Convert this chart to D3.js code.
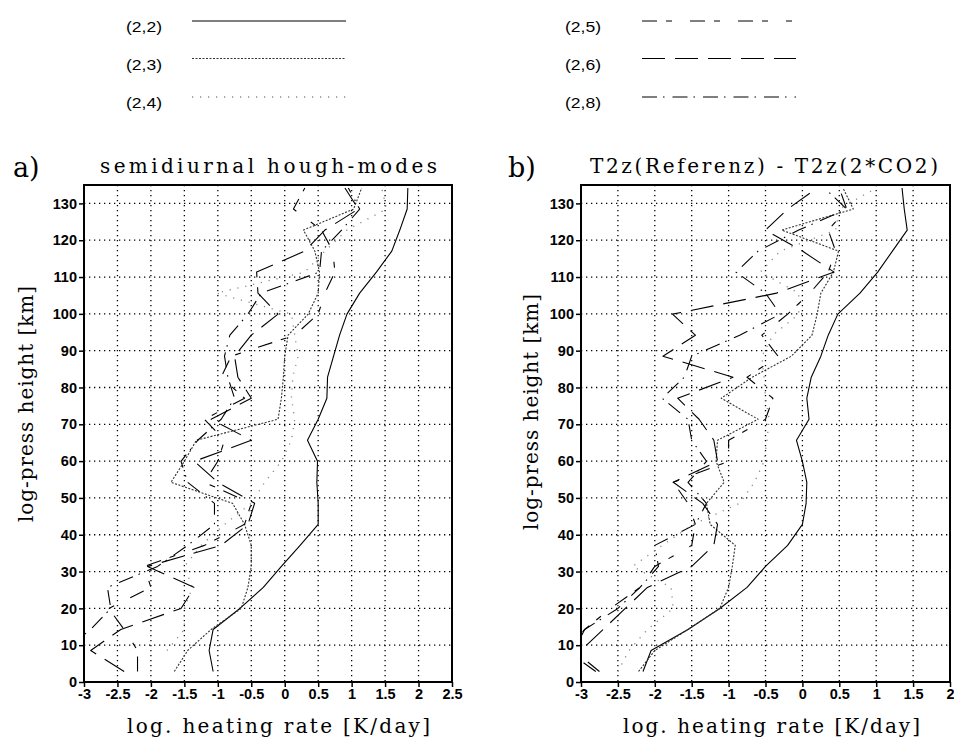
<!DOCTYPE html>
<html>
<head>
<meta charset="utf-8">
<script src="https://cdn.jsdelivr.net/npm/d3@7"></script>
<style>
  body { margin: 0; background: #fff; }
  svg { display: block; }
</style>
</head>
<body>
<svg id="chart" width="954" height="740"></svg>
<script>
// ---------- DATA ----------
const heights = [2.85, 8.56, 14.27, 19.98, 25.69, 31.4, 37.11, 42.82, 48.53, 54.24, 59.95, 65.66,
                 71.37, 77.08, 82.79, 88.5, 94.21, 99.92, 105.63, 111.34, 117.05, 122.76, 128.47, 134.18];

const seriesNames = ["(2,2)", "(2,3)", "(2,4)", "(2,5)", "(2,6)", "(2,8)"];

// panel a) semidiurnal hough-modes
const a22 = [-1.07, -1.13, -1.07, -0.67, -0.32, -0.05, 0.23, 0.50, 0.50, 0.48, 0.49, 0.34, 0.50, 0.63, 0.64, 0.73, 0.82, 0.93, 1.12, 1.37, 1.60, 1.72, 1.83, 1.84];
const a23 = [-1.65, -1.45, -1.1, -0.65, -0.55, -0.5, -0.5, -0.6, -0.78, -1.7, -1.5, -1.32, -0.1, -0.05, -0.02, 0.0, 0.05, 0.35, 0.5, 0.52, 0.45, 0.28, 1.03, 1.15];
const a24 = [null, -1.76, -1.5, -1.5, -1.38, -1.5, -1.25, -0.9, -0.5, -0.3, -0.05, 0.1, 0.15, 0.1, 0.12, 0.2, 0.15, 0.1, -1.02, 0.3, 0.6, 0.93, 1.52, 1.45];
const a25 = [-2.2, -2.2, -2.4, -2.63, -2.0, -2.1, -1.2, -0.6, -0.5, -1.2, -1.0, -0.9, -1.2, -0.6, -0.95, -0.8, 0.15, 0.5, 0.6, 0.75, 0.72, 0.55, 0.13, 0.3];
const a26 = [-2.4, -2.9, -2.45, -1.55, -1.35, -2.05, -0.95, -0.55, -0.45, -1.0, -1.35, -0.5, -1.1, -0.5, -0.7, -0.75, -0.5, -0.1, -0.4, -0.42, 0.3, 0.6, 1.1, 0.9];
const a28 = [-3.5, -3.3, -2.9, -2.6, -2.65, -1.9, -1.45, -1.05, -1.05, -1.45, -1.55, -1.3, -0.95, -0.75, -0.85, -0.9, -0.82, -0.55, -0.35, 0.52, 0.55, 0.85, 1.12, 0.95];

// panel b) T2z(Referenz) - T2z(2*CO2)
const b22 = [-2.16, -2.05, -1.55, -1.12, -0.75, -0.5, -0.2, 0.0, 0.05, 0.06, 0.0, -0.08, 0.09, 0.06, 0.12, 0.25, 0.35, 0.48, 0.78, 1.02, 1.22, 1.42, 1.38, 1.35];
const b23 = [-2.22, -2.0, -1.55, -1.12, -1.0, -0.95, -0.91, -1.25, -1.3, -1.06, -1.17, -1.15, -0.6, -1.1, -0.68, -0.15, 0.13, 0.2, 0.25, 0.42, 0.49, -0.28, 0.69, 0.55];
const b24 = [-2.5, -2.35, -2.1, -1.75, -1.78, -2.3, -1.9, -1.48, -0.85, -0.65, -0.52, -0.48, -0.45, -0.5, -0.52, -0.55, -0.4, -0.05, -0.05, -0.57, -0.3, 0.45, 0.5, 1.0];
const b25 = [-2.75, -3.1, -2.95, -2.6, -2.2, -2.0, -1.5, -1.45, -1.55, -1.75, -1.0, -1.0, -0.5, -0.4, -0.75, -0.33, -0.55, -0.2, 0.1, 0.35, 0.45, 0.35, 0.6, 0.5];
const b26 = [-3.2, -3.0, -2.7, -2.4, -2.1, -1.5, -1.2, -1.15, -1.35, -1.75, -1.15, -1.2, -1.4, -1.69, -0.94, -1.89, -1.45, -1.76, -0.35, 0.43, 0.0, -0.5, -0.2, 0.2];
const b28 = [-2.8, -3.2, -2.95, -2.5, -2.2, -1.95, -2.0, -1.45, -1.3, -1.55, -1.3, -1.5, -1.55, -1.9, -1.6, -1.5, -0.85, -0.3, -0.5, -0.9, -0.6, -0.05, 0.6, 0.3];

const xTicksA = [-3, -2.5, -2, -1.5, -1, -0.5, 0, 0.5, 1, 1.5, 2, 2.5];
const xTicksB = [-3, -2.5, -2, -1.5, -1, -0.5, 0, 0.5, 1, 1.5, 2];
const yTicks = [0, 10, 20, 30, 40, 50, 60, 70, 80, 90, 100, 110, 120, 130];

const panelTitles = ["semidiurnal hough-modes", "T2z(Referenz) - T2z(2*CO2)"];
const panelLetters = ["a)", "b)"];
const xLabel = "log. heating rate [K/day]";
const yLabel = "log-press height [km]";

// ---------- STYLES ----------
const styles = {
  "(2,2)": { dash: null, color: "#000", w: 1.1 },
  "(2,3)": { dash: "2,1.5", color: "#333", w: 1.1 },
  "(2,4)": { dash: "1.2,6.8", color: "#888", w: 1.3 },
  "(2,5)": { dash: "15,9,6,18", color: "#000", w: 1.1 },
  "(2,6)": { dash: "23,10", color: "#000", w: 1.1 },
  "(2,8)": { dash: "15,6,1.5,8", color: "#000", w: 1.1 }
};

const svg = d3.select("#chart");
const serif = "'DejaVu Serif', 'Liberation Serif', serif";
const sans = "'Liberation Sans', Arial, sans-serif";

// ---------- LEGEND ----------
const legendItems = [
  { name: "(2,2)", tx: 126, lx0: 192, lx1: 346, y: 21 },
  { name: "(2,3)", tx: 126, lx0: 192, lx1: 346, y: 58.5 },
  { name: "(2,4)", tx: 126, lx0: 192, lx1: 346, y: 97 },
  { name: "(2,5)", tx: 565, lx0: 642, lx1: 792, y: 21 },
  { name: "(2,6)", tx: 565, lx0: 642, lx1: 796, y: 58.5 },
  { name: "(2,8)", tx: 565, lx0: 642, lx1: 796, y: 97 }
];
const lg = svg.append("g");
legendItems.forEach(it => {
  const st = styles[it.name];
  lg.append("text").attr("x", it.tx).attr("y", it.y + 11)
    .attr("font-family", sans).attr("font-size", 14)
    .attr("textLength", 36).attr("lengthAdjust", "spacingAndGlyphs")
    .text(it.name);
  lg.append("line").attr("x1", it.lx0).attr("x2", it.lx1)
    .attr("y1", it.y).attr("y2", it.y)
    .attr("stroke", st.color).attr("stroke-width", st.w)
    .attr("stroke-dasharray", st.dash);
});

// ---------- PANELS ----------
const panels = [
  { left: 84, right: 452, xDomain: [-3, 2.5], xTicks: xTicksA,
    data: [a22, a23, a24, a25, a26, a28],
    letterX: 13, titleX: 100, titleW: 337, yLabelX: 33, yLabelY: 522, xLabelX: 127, xLabelW: 303 },
  { left: 581, right: 950, xDomain: [-3, 2], xTicks: xTicksB,
    data: [b22, b23, b24, b25, b26, b28],
    letterX: 508, titleX: 590, titleW: 348, yLabelX: 538, yLabelY: 530, xLabelX: 623, xLabelW: 297 }
];

const plotTop = 185, plotBottom = 682;

panels.forEach((p, pi) => {
  const x = d3.scaleLinear().domain(p.xDomain).range([p.left, p.right]);
  const y = d3.scaleLinear().domain([0, 135]).range([plotBottom, plotTop]);
  const g = svg.append("g");

  // grid (dotted)
  g.append("g").selectAll("line").data(p.xTicks.slice(1))
    .join("line")
    .attr("x1", d => x(d)).attr("x2", d => x(d))
    .attr("y1", plotTop).attr("y2", plotBottom)
    .attr("stroke", "#000").attr("stroke-width", 1.3)
    .attr("stroke-dasharray", "1.3,3.7");
  g.append("g").selectAll("line").data(yTicks.slice(1))
    .join("line")
    .attr("x1", p.left).attr("x2", p.right)
    .attr("y1", d => y(d)).attr("y2", d => y(d))
    .attr("stroke", "#000").attr("stroke-width", 1.3)
    .attr("stroke-dasharray", "1.3,3.7");

  // clip
  const clipId = "clip" + pi;
  svg.append("clipPath").attr("id", clipId)
    .append("rect").attr("x", p.left).attr("y", plotTop)
    .attr("width", p.right - p.left).attr("height", plotBottom - plotTop);

  const line = d3.line()
    .defined(d => d.v !== null)
    .x(d => x(d.v)).y(d => y(d.h));

  const lines = g.append("g").attr("clip-path", `url(#${clipId})`);
  p.data.forEach((arr, si) => {
    const st = styles[seriesNames[si]];
    const pts = heights.map((h, i) => ({ h: h, v: arr[i] }));
    lines.append("path").datum(pts)
      .attr("d", line)
      .attr("fill", "none")
      .attr("stroke", st.color)
      .attr("stroke-width", st.w)
      .attr("stroke-dasharray", st.dash)
      .attr("stroke-linejoin", "round");
  });

  // axes
  const xAxis = d3.axisBottom(x).tickValues(p.xTicks)
    .tickFormat(d => String(d)).tickSize(5).tickPadding(2);
  const gx = g.append("g").attr("transform", `translate(0,${plotBottom})`).call(xAxis);
  gx.select(".domain").remove();
  gx.selectAll(".tick line").attr("stroke", "#000").attr("stroke-width", 1.5);
  gx.selectAll("text").attr("font-family", sans).attr("font-weight", "bold")
    .attr("font-size", 14.5).attr("fill", "#000");

  const yAxis = d3.axisLeft(y).tickValues(yTicks)
    .tickFormat(d => String(d)).tickSize(5).tickPadding(2);
  const gy = g.append("g").attr("transform", `translate(${p.left},0)`).call(yAxis);
  gy.select(".domain").remove();
  gy.selectAll(".tick line").attr("stroke", "#000").attr("stroke-width", 1.5);
  gy.selectAll("text").attr("font-family", sans).attr("font-weight", "bold")
    .attr("font-size", 14.5).attr("fill", "#000");

  // frame
  g.append("rect").attr("x", p.left).attr("y", plotTop)
    .attr("width", p.right - p.left).attr("height", plotBottom - plotTop)
    .attr("fill", "none").attr("stroke", "#000").attr("stroke-width", 2);

  // titles
  g.append("text").attr("x", p.letterX).attr("y", 177)
    .attr("font-family", serif).attr("font-size", 27)
    .text(panelLetters[pi]);
  g.append("text").attr("x", p.titleX).attr("y", 173)
    .attr("font-family", serif).attr("font-size", 20)
    .attr("textLength", p.titleW).attr("lengthAdjust", "spacing")
    .text(panelTitles[pi]);

  // axis labels
  g.append("text").attr("x", p.xLabelX).attr("y", 733)
    .attr("font-family", serif).attr("font-size", 20)
    .attr("textLength", p.xLabelW).attr("lengthAdjust", "spacing")
    .text(xLabel);
  g.append("text")
    .attr("transform", `translate(${p.yLabelX},${p.yLabelY}) rotate(-90)`)
    .attr("font-family", serif).attr("font-size", 20)
    .attr("textLength", 236).attr("lengthAdjust", "spacing")
    .text(yLabel);
});
</script>
</body>
</html>
